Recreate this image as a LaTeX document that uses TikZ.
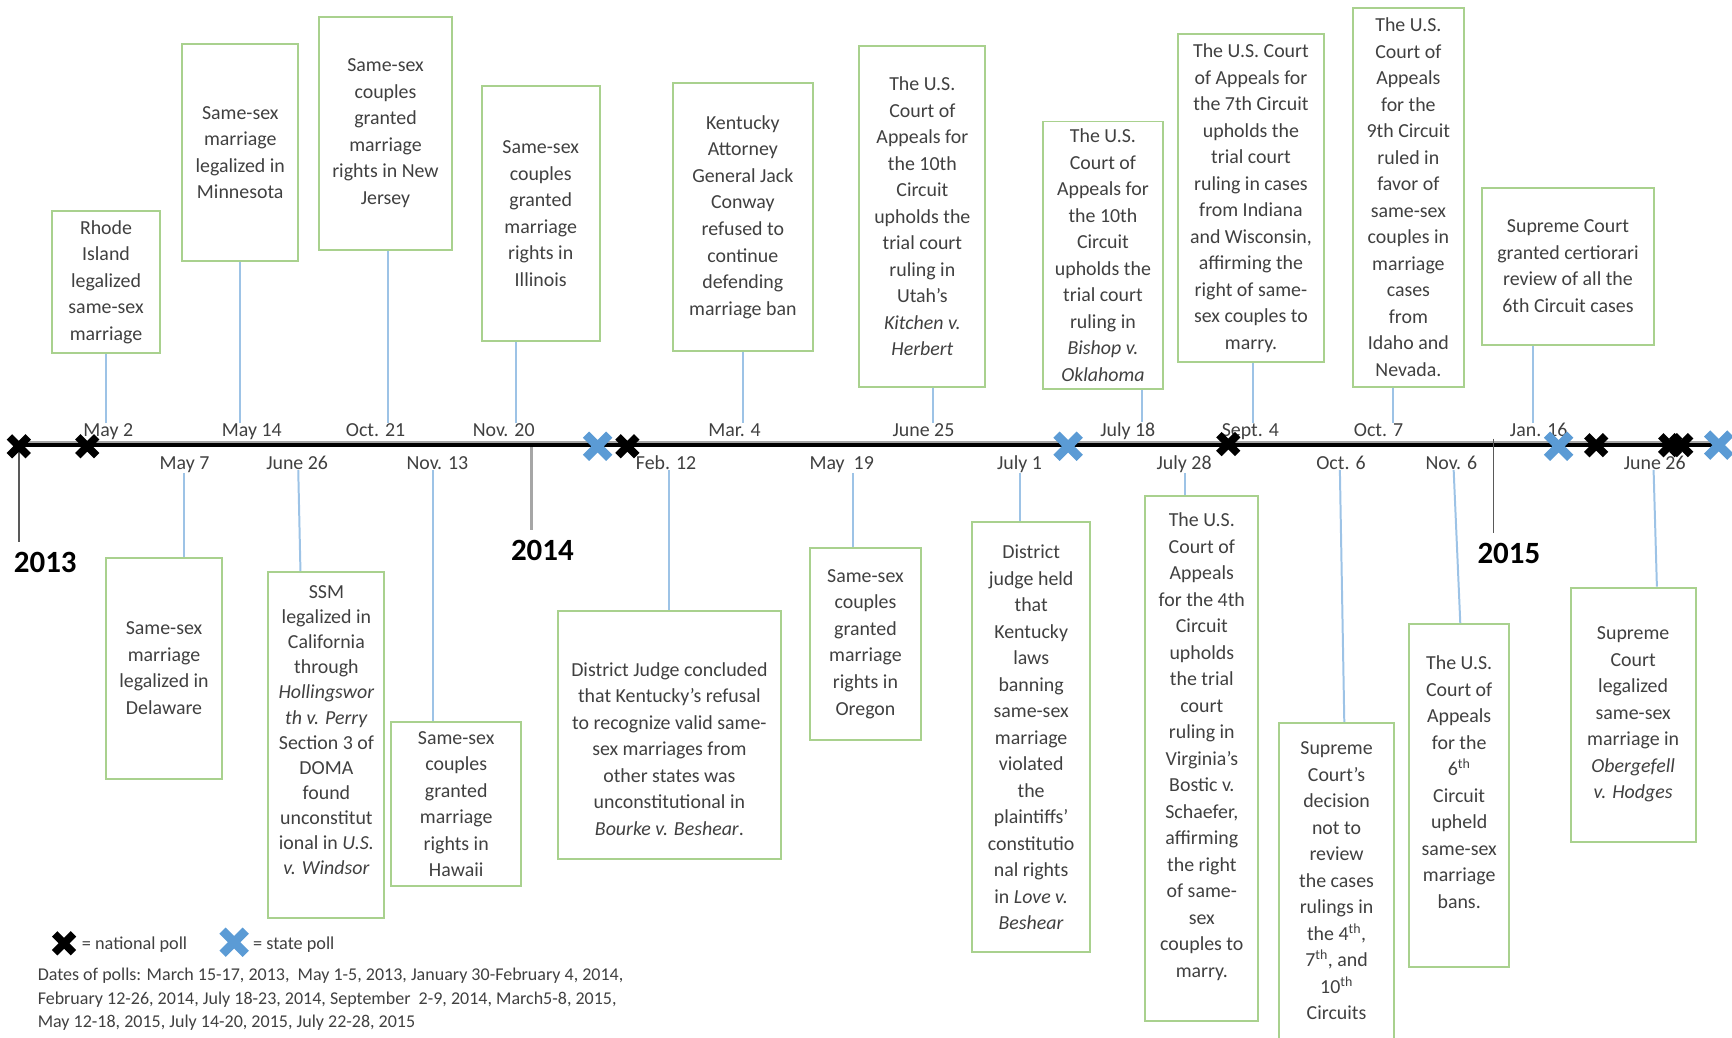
\documentclass[tikz,border=0pt]{standalone}
\usepackage{fontspec}
\setmainfont{Carlito}
\usetikzlibrary{shapes.misc}
\definecolor{boxgreen}{HTML}{A9D18E}
\definecolor{connblue}{HTML}{9DC3E6}
\definecolor{pollblue}{HTML}{5B9BD5}
\definecolor{txt}{HTML}{404040}
\newcommand\evfont{\fontsize{18}{24}\selectfont}
\newcommand\evfonttight{\fontsize{18}{22.7}\selectfont}
\begin{document}
\begin{tikzpicture}[x=1pt,y=-1pt,
  evbox/.style 2 args={draw=boxgreen, line width=1.8pt, align=center, text=txt,
     font=\evfont, inner sep=1pt, minimum width=#1, minimum height=#2},
  datelbl/.style={font=\fontsize{18}{22}\selectfont, text=txt, inner sep=0pt, anchor=base},
  conn/.style={draw=connblue, line width=1.8pt},
  yearlbl/.style={font=\fontsize{28}{30}\selectfont\bfseries, text=black, inner xsep=0pt, inner ysep=9pt, anchor=base},
  tickline/.style={line width=2pt},
  natpoll/.style={cross out, draw=black, line width=7pt, minimum size=10pt, inner sep=0pt},
  statepoll/.style={cross out, draw=pollblue, line width=8pt, minimum size=13pt, inner sep=0pt},
  legtext/.style={font=\fontsize{16.5}{21}\selectfont, text=txt, inner sep=0pt, anchor=base west},
  datestext/.style={font=\fontsize{16.3}{21}\selectfont, text=txt, inner sep=0pt, anchor=base west}]
\useasboundingbox (0,0) rectangle (1568,939);

% timeline
\coordinate (tlA) at (14,403.2);
\coordinate (tlB) at (1556,403.2);
\coordinate (tlAg) at (14,400.3);
\coordinate (tlBg) at (1556,400.3);
\draw[line width=3pt, black!35] (tlAg) -- (tlBg);
\draw[line width=3.8pt, black] (tlA) -- (tlB);

% year ticks
\coordinate (t13) at (17,403);
\coordinate (t14) at (481,405);
\coordinate (t15) at (1352,397);
\node[yearlbl] (y13) at (41,518) {2013};
\node[yearlbl] (y14) at (491,507) {2014};
\node[yearlbl] (y15) at (1366,510) {2015};
\draw[tickline, draw=black!65] (t13) -- (t13 |- y13.north);
\draw[tickline, draw=black!35, line width=2.5pt] (t14) -- (t14 |- y14.north);
\draw[tickline, draw=black!65, line width=1.5pt] (t15) -- (t15 |- y15.north);

% date labels above
\node[datelbl] (dA1) at (98,395) {May 2};
\node[datelbl] (dA2) at (228,395) {May 14};
\node[datelbl] (dA3) at (340,395) {Oct. 21};
\node[datelbl] (dA4) at (456,395) {Nov. 20};
\node[datelbl] (dA5) at (665,395) {Mar. 4};
\node[datelbl] (dA6) at (836,395) {June 25};
\node[datelbl] (dA7) at (1021,395) {July 18};
\node[datelbl] (dA8) at (1132,395) {Sept. 4};
\node[datelbl] (dA9) at (1248,395) {Oct. 7};
\node[datelbl] (dA10) at (1393,395) {Jan. 16};

% date labels below
\node[datelbl] (dB1) at (167,425) {May 7};
\node[datelbl] (dB2) at (269,425) {June 26};
\node[datelbl] (dB3) at (396,425) {Nov. 13};
\node[datelbl] (dB4) at (603,425) {Feb. 12};
\node[datelbl] (dB5) at (762,425) {May\ \ 19};
\node[datelbl] (dB6) at (923,425) {July 1};
\node[datelbl] (dB7) at (1072,425) {July 28};
\node[datelbl] (dB8) at (1214,425) {Oct. 6};
\node[datelbl] (dB9) at (1314,425) {Nov. 6};
\node[datelbl] (dB10) at (1498,425) {June 26};

% boxes above
\node[evbox={98pt}{129pt}] (b1) at (96,255.5) {Rhode\\Island\\legalized\\same-sex\\marriage};
\node[evbox={105pt}{196pt}] (b2) at (217.5,138) {Same-sex\\marriage\\legalized in\\Minnesota};
\node[evbox={120pt}{211pt}] (b3) at (349,120.5) {Same-sex\\couples\\granted\\marriage\\rights in New\\Jersey};
\node[evbox={107pt}{231pt}] (b4) at (489.5,193.5) {Same-sex\\couples\\granted\\marriage\\rights in\\Illinois};
\node[evbox={127pt}{243pt}] (b5) at (672.5,196.5) {Kentucky\\Attorney\\General Jack\\Conway\\refused to\\continue\\defending\\marriage ban};
\node[evbox={114pt}{308pt}] (b6) at (835,196) {The U.S.\\Court of\\Appeals for\\the 10th\\Circuit\\upholds the\\trial court\\ruling in\\Utah's\\\textit{Kitchen v.}\\\textit{Herbert}};
\node[evbox={109pt}{242pt}] (b7) at (998.5,231) {The U.S.\\Court of\\Appeals for\\the 10th\\Circuit\\upholds the\\trial court\\ruling in\\\textit{Bishop v.}\\\textit{Oklahoma}};
\node[evbox={133pt}{297pt}] (b8) at (1132.5,179.5) {The U.S. Court\\of Appeals for\\the 7th Circuit\\upholds the\\trial court\\ruling in cases\\from Indiana\\and Wisconsin,\\affirming the\\right of same-\\sex couples to\\marry.};
\node[evbox={100pt}{343pt}] (b9) at (1275,178.5) {The U.S.\\Court of\\Appeals\\for the\\9th Circuit\\ruled in\\favor of\\same-sex\\couples in\\marriage\\cases\\from\\Idaho and\\Nevada.};
\node[evbox={155pt}{142pt}] (b10) at (1419.5,241) {Supreme Court\\granted certiorari\\review of all the\\6th Circuit cases};

% boxes below
\node[evbox={105pt}{200pt}] (b11) at (148.5,605) {Same-sex\\marriage\\legalized in\\Delaware};
\node[evbox={105pt}{313pt}, font=\evfonttight] (b12) at (295.5,674.5) {SSM\\legalized in\\California\\through\\\textit{Hollingswor}\\\textit{th v. Perry}\\Section 3 of\\DOMA\\found\\unconstitut\\ional in \textit{U.S.}\\\textit{v. Windsor}\\[4.3pt]};
\node[evbox={118pt}{148pt}] (b13) at (413,728) {Same-sex\\couples\\granted\\marriage\\rights in\\Hawaii};
\node[evbox={202pt}{225pt}] (b14) at (606,665.5) {\\[13.5pt]District Judge concluded\\that Kentucky's refusal\\to recognize valid same-\\sex marriages from\\other states was\\unconstitutional in\\\textit{Bourke v. Beshear}.};
\node[evbox={101pt}{174pt}] (b15) at (783.5,583) {Same-sex\\couples\\granted\\marriage\\rights in\\Oregon};
\node[evbox={107pt}{389pt}] (b16) at (933.5,667.5) {District\\judge held\\that\\Kentucky\\laws\\banning\\same-sex\\marriage\\violated\\the\\plaintiffs'\\constitutio\\nal rights\\in \textit{Love v.}\\\textit{Beshear}};
\node[evbox={102pt}{475pt}] (b17) at (1088,686.5) {The U.S.\\Court of\\Appeals\\for the 4th\\Circuit\\upholds\\the trial\\court\\ruling in\\Virginia's\\Bostic v.\\Schaefer,\\affirming\\the right\\of same-\\sex\\couples to\\marry.\\[0pt]};
\node[evbox={104pt}{286pt}] (b18) at (1210,797.5) {Supreme\\Court's\\decision\\not to\\review\\the cases\\rulings in\\the 4\textsuperscript{th},\\7\textsuperscript{th}, and\\10\textsuperscript{th}\\Circuits};
\node[evbox={90pt}{310pt}] (b19) at (1321,720) {The U.S.\\Court of\\Appeals\\for the\\6\textsuperscript{th}\\Circuit\\upheld\\same-sex\\marriage\\bans.\\[0pt]};
\node[evbox={113pt}{230pt}] (b20) at (1478.5,647) {Supreme\\Court\\legalized\\same-sex\\marriage in\\\textit{Obergefell}\\\textit{v. Hodges}};

% connectors above
\draw[conn] (b1.south) -- (b1.south |- dA1.north);
\draw[conn] (b2.south) -- (b2.south |- dA2.north);
\draw[conn] ([xshift=2pt]b3.south) -- ([xshift=2pt]b3.south |- dA3.north);
\draw[conn] ([xshift=-22.5pt]b4.south) -- ([xshift=-22.5pt]b4.south |- dA4.north);
\draw[conn] (b5.south) -- (b5.south |- dA5.north);
\draw[conn] ([xshift=10pt]b6.south) -- ([xshift=10pt]b6.south |- dA6.north);
\draw[conn] ([xshift=35.5pt]b7.south) -- ([xshift=35.5pt]b7.south |- dA7.north);
\draw[conn] ([xshift=1.5pt]b8.south) -- ([xshift=1.5pt]b8.south |- dA8.north);
\draw[conn] ([xshift=-14pt]b9.south) -- ([xshift=-14pt]b9.south |- dA9.north);
\draw[conn] ([xshift=-31.5pt]b10.south) -- ([xshift=-31.5pt]b10.south |- dA10.north);

% connectors below
\draw[conn] (dB1.south) -- (dB1.south |- b11.north);
\draw[conn] ([xshift=1pt]dB2.south) -- ([xshift=3pt]dB2.south |- b12.north);
\draw[conn] ([xshift=-4pt]dB3.south) -- ([xshift=-4pt]dB3.south |- b13.north);
\draw[conn] ([xshift=3pt]dB4.south) -- ([xshift=3pt]dB4.south |- b14.north);
\draw[conn] ([xshift=10pt]dB5.south) -- ([xshift=10pt]dB5.south |- b15.north);
\draw[conn] (dB6.south) -- (dB6.south |- b16.north);
\draw[conn] ([xshift=1pt]dB7.south) -- ([xshift=1pt]dB7.south |- b17.north);
\draw[conn] ([xshift=-1pt]dB8.south) -- ([xshift=3pt]dB8.south |- b18.north);
\draw[conn] ([xshift=2pt]dB9.south) -- ([xshift=8pt]dB9.south |- b19.north);
\draw[conn] ([xshift=-1pt]dB10.south) -- ([xshift=2pt]dB10.south |- b20.north);

% poll markers
\node[natpoll] (n1) at (17,404) {};
\node[natpoll] (n2) at (79,404) {};
\node[natpoll] (n3) at (568,404) {};
\node[natpoll] (n4) at (1112,402) {};
\node[natpoll] (n5) at (1445,403) {};
\node[natpoll] (n6) at (1512,403) {};
\node[natpoll] (n7) at (1522,403) {};
\node[statepoll] (s1) at (541,404) {};
\node[statepoll] (s2) at (967,404) {};
\node[statepoll] (s3) at (1411,404) {};
\node[statepoll] (s4) at (1556,403) {};

% legend
\node[natpoll] (ln) at (58,854) {};
\node[legtext] (lnt) at (74,860) {= national poll};
\node[statepoll] (ls) at (212,853) {};
\node[legtext] (lst) at (229,860) {= state poll};
\node[datestext] (l1) at (34,888) {Dates of polls: March 15-17, 2013,\ \ May 1-5, 2013, January 30-February 4, 2014,};
\node[datestext] (l2) at (34,909) {February 12-26, 2014, July 18-23, 2014, September\ \ 2-9, 2014, March5-8, 2015,};
\node[datestext] (l3) at (34,930) {May 12-18, 2015, July 14-20, 2015, July 22-28, 2015};
\end{tikzpicture}
\end{document}
